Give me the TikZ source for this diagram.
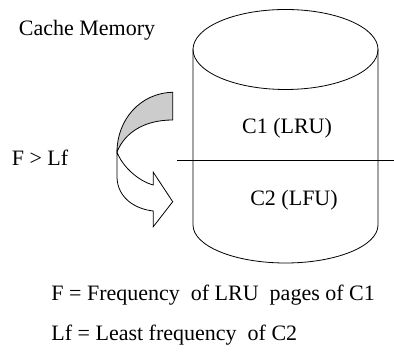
\documentclass[tikz,border=0pt]{standalone}
\usepackage{fontspec}
\setmainfont{Liberation Serif}
\usetikzlibrary{calc}

\begin{document}
\begin{tikzpicture}[x=0.5pt,y=-0.5pt,lbl/.style={font=\fontsize{11}{13}\selectfont,inner sep=0pt}]
  \coordinate (top) at (285.5,49.5);
  \coordinate (bot) at (285.5,225);
  \coordinate (split) at (177,160);

  \path[use as bounding box] (0,0) rectangle (394,356);

  \draw (top) ellipse [x radius=92.5,y radius=40];
  \draw ($ (top) + (-92.5,0) $) -- ($ (bot) + (-92.5,0) $)
    arc [start angle=180,end angle=0,x radius=92.5,y radius=38]
    -- ($ (top) + (92.5,0) $);
  \draw (split) -- (394,160);

  \node[lbl] (cache) at (87,30) {Cache Memory};
  \node[lbl] (cond) at (40,158) {F > Lf};
  \node[lbl] (c1) at (287,128) {C1 (LRU)};
  \node[lbl] (c2) at (294,200) {C2 (LFU)};
  \node[lbl,anchor=west] (deff) at (51,295) {F = Frequency\ \ of LRU\ \ pages of C1};
  \node[lbl,anchor=west] (deflf) at (51,335) {Lf = Least frequency\ \ of C2};

  \coordinate (bend) at (117,152);
  \draw[fill=white] (bend) -- (117,178) .. controls (118,198) and (135,209) .. (153.3,211)
    -- (153.3,226.7) -- (172.7,201.7) -- (153.3,172.3) -- (153.3,185)
    .. controls (138,181) and (122,166) .. (bend) -- cycle;
  \draw[fill=black!20] (bend) .. controls (117,120) and (140,93) .. (172.7,92.3)
    -- (172.7,120) .. controls (145,120) and (125,132) .. (bend) -- cycle;
\end{tikzpicture}
\end{document}
